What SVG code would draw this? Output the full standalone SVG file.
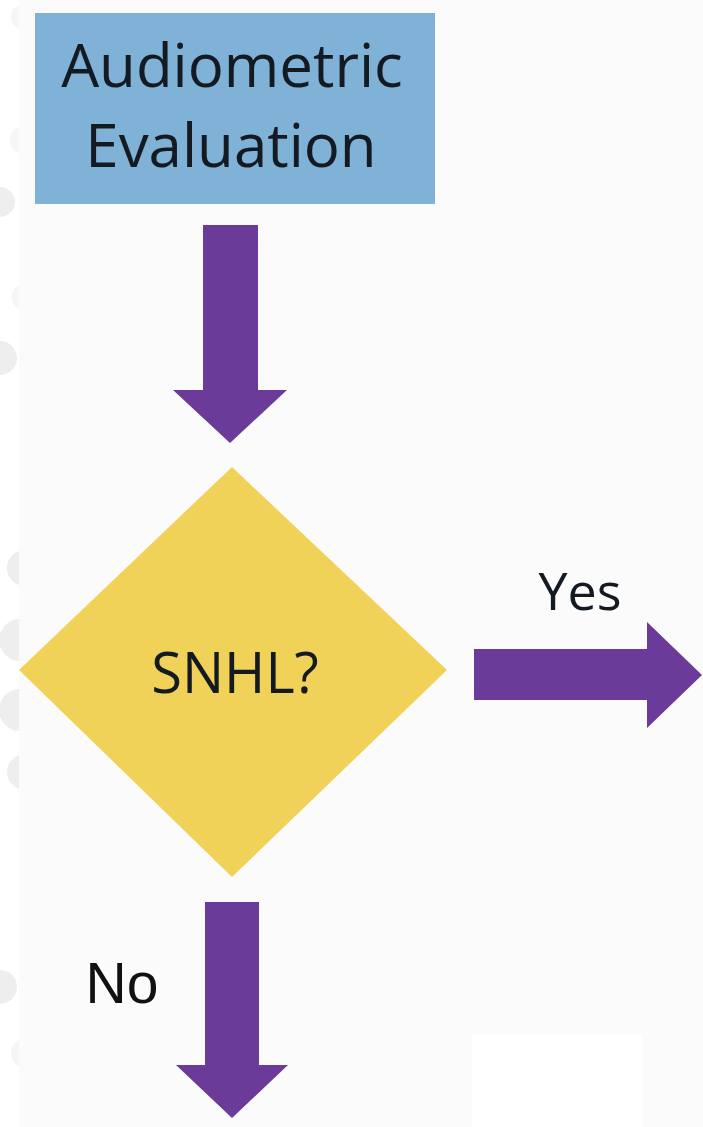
<svg xmlns="http://www.w3.org/2000/svg" width="703" height="1127" viewBox="0 0 703 1127">
  <style>
    .lbl { font-family: "Open Sans", "Noto Sans", sans-serif; fill: #141a22; text-anchor: middle; }
    .arrow { fill: #6a3b99; }
    .dot { fill: #eeeeef; }
  </style>
  <defs>
    <clipPath id="edge">
      <rect x="0" y="0" width="19" height="1127"/>
    </clipPath>
  </defs>

  <!-- page background with a white margin strip on the left -->
  <rect x="0" y="0" width="703" height="1127" fill="#fbfbfc"/>
  <rect x="0" y="0" width="19" height="1127" fill="#ffffff"/>
  <rect x="472" y="1035" width="170" height="92" fill="#ffffff"/>

  <!-- faint round markers along the left margin -->
  <g clip-path="url(#edge)">
    <circle class="dot" cx="24" cy="17" r="13" opacity="0.5"/>
    <circle class="dot" cx="24" cy="140" r="14" opacity="0.5"/>
    <circle class="dot" cx="0" cy="202" r="15"/>
    <circle class="dot" cx="26" cy="297" r="14" opacity="0.5"/>
    <circle class="dot" cx="0" cy="358" r="17"/>
    <circle class="dot" cx="25" cy="568" r="18"/>
    <circle class="dot" cx="20" cy="640" r="21"/>
    <circle class="dot" cx="20" cy="710" r="21"/>
    <circle class="dot" cx="25" cy="772" r="18"/>
    <circle class="dot" cx="0" cy="987" r="17"/>
    <circle class="dot" cx="26" cy="1053" r="15" opacity="0.6"/>
  </g>

  <!-- connectors -->
  <g id="connectors">
    <polygon id="arrow-eval-snhl" class="arrow" points="203,225 258,225 258,390 287,390 230,443 173,390 203,390"/>
    <polygon id="arrow-yes" class="arrow" points="474,649 647,649 647,622 702,675 647,728 647,700 474,700"/>
    <polygon id="arrow-no" class="arrow" points="205,902 259,902 259,1065 288,1065 232,1118 176,1065 205,1065"/>
    <text class="lbl" x="580" y="610" font-size="52">Yes</text>
    <text x="122" y="1003" font-size="57" font-family="'Liberation Sans', Arial, sans-serif" fill="#111111" text-anchor="middle">No</text>
  </g>

  <!-- start node -->
  <g id="audiometric-evaluation">
    <rect x="35" y="13" width="400" height="191" fill="#7fb2d6"/>
    <text class="lbl" x="232" y="87" font-size="60">Audiometric</text>
    <text class="lbl" x="231" y="167" font-size="60">Evaluation</text>
  </g>

  <!-- decision node -->
  <g id="snhl-decision">
    <polygon points="232,467 447,670 232,877 19,670" fill="#efd257"/>
    <text class="lbl" x="235" y="693" font-size="56">SNHL?</text>
  </g>
</svg>
